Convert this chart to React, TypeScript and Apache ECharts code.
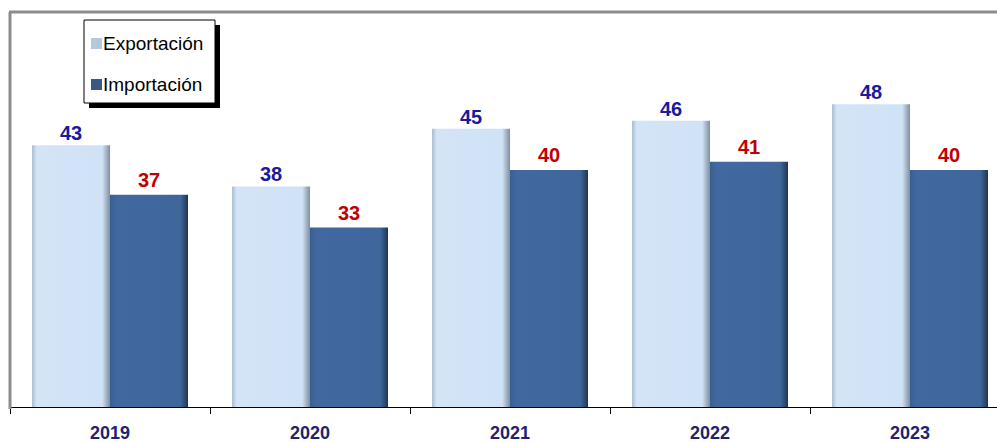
import React, { useEffect, useRef } from "react";
import * as echarts from "echarts";

const years = ["2019", "2020", "2021", "2022", "2023"];
const exportacion = [43, 38, 45, 46, 48];
const importacion = [37, 33, 40, 41, 40];

export default function App() {
  const ref = useRef<HTMLDivElement>(null);
  useEffect(() => {
    const chart = echarts.init(ref.current!, null, { renderer: "svg" });
    const lightFill = new echarts.graphic.LinearGradient(0, 0, 1, 0, [
      { offset: 0, color: "#a9bdd3" },
      { offset: 0.06, color: "#d3e4f7" },
      { offset: 0.9, color: "#d0e2f6" },
      { offset: 1, color: "#7f8ea0" },
    ]);
    const darkFill = new echarts.graphic.LinearGradient(0, 0, 1, 0, [
      { offset: 0, color: "#3a5f8f" },
      { offset: 0.08, color: "#4169a0" },
      { offset: 0.9, color: "#3f679c" },
      { offset: 1, color: "#1f3553" },
    ]);
    chart.setOption({
      animation: false,
      backgroundColor: "#ffffff",
      grid: { left: 10, right: 0, top: 12, bottom: 33, containLabel: false },
      xAxis: {
        type: "category",
        data: years,
        boundaryGap: true,
        axisLine: { lineStyle: { color: "#000", width: 1 } },
        axisTick: { show: true, length: 7, lineStyle: { color: "#000" } },
        axisLabel: {
          color: "#1c2470",
          fontFamily: "Liberation Sans, Arial",
          fontWeight: "bold",
          fontSize: 18,
          margin: 17,
        },
      },
      yAxis: { type: "value", min: 11.2, max: 59.2, show: false, splitLine: { show: false } },
      legend: {
        orient: "vertical",
        left: 86,
        top: 29,
        itemGap: 22,
        itemWidth: 11,
        itemHeight: 11,
        icon: "rect",
        z: 10,
        textStyle: { fontFamily: "Liberation Sans, Arial", fontSize: 19, color: "#000", padding: [0, 0, 0, -4] },
        data: [
          { name: "Exportación", itemStyle: { color: "#b4c8de" } },
          { name: "Importación", itemStyle: { color: "#3c5688" } },
        ],
      },
      graphic: [
        { type: "rect", z: 1, shape: { x: 89, y: 25, width: 131, height: 83 }, style: { fill: "#000" } },
        { type: "rect", z: 2, shape: { x: 84, y: 20, width: 131, height: 83 }, style: { fill: "#fff", stroke: "#000", lineWidth: 1 } },
        { type: "line", z: 5, shape: { x1: 10, y1: 12, x2: 10, y2: 409 }, style: { stroke: "#8c8c8c", lineWidth: 3 } },
        { type: "line", z: 5, shape: { x1: 9, y1: 12, x2: 1010, y2: 12 }, style: { stroke: "#8c8c8c", lineWidth: 3 } },
      ],
      series: [
        {
          name: "Exportación",
          type: "bar",
          data: exportacion,
          barWidth: 78,
          barGap: "0%",
          itemStyle: { color: lightFill },
          label: {
            show: true,
            position: "top",
            distance: 2,
            color: "#1a1a9c",
            fontFamily: "Liberation Sans, Arial",
            fontWeight: "bold",
            fontSize: 20,
          },
        },
        {
          name: "Importación",
          type: "bar",
          data: importacion,
          barWidth: 78,
          itemStyle: { color: darkFill },
          label: {
            show: true,
            position: "top",
            distance: 5,
            color: "#c00000",
            fontFamily: "Liberation Sans, Arial",
            fontWeight: "bold",
            fontSize: 20,
          },
        },
      ],
    });
    return () => chart.dispose();
  }, []);
  return (
    <div style={{ position: "fixed", left: 0, top: 0, width: 997, height: 442, overflow: "hidden", background: "#fff" }}>
      <div ref={ref} style={{ width: 1010, height: 442 }} />
    </div>
  );
}
